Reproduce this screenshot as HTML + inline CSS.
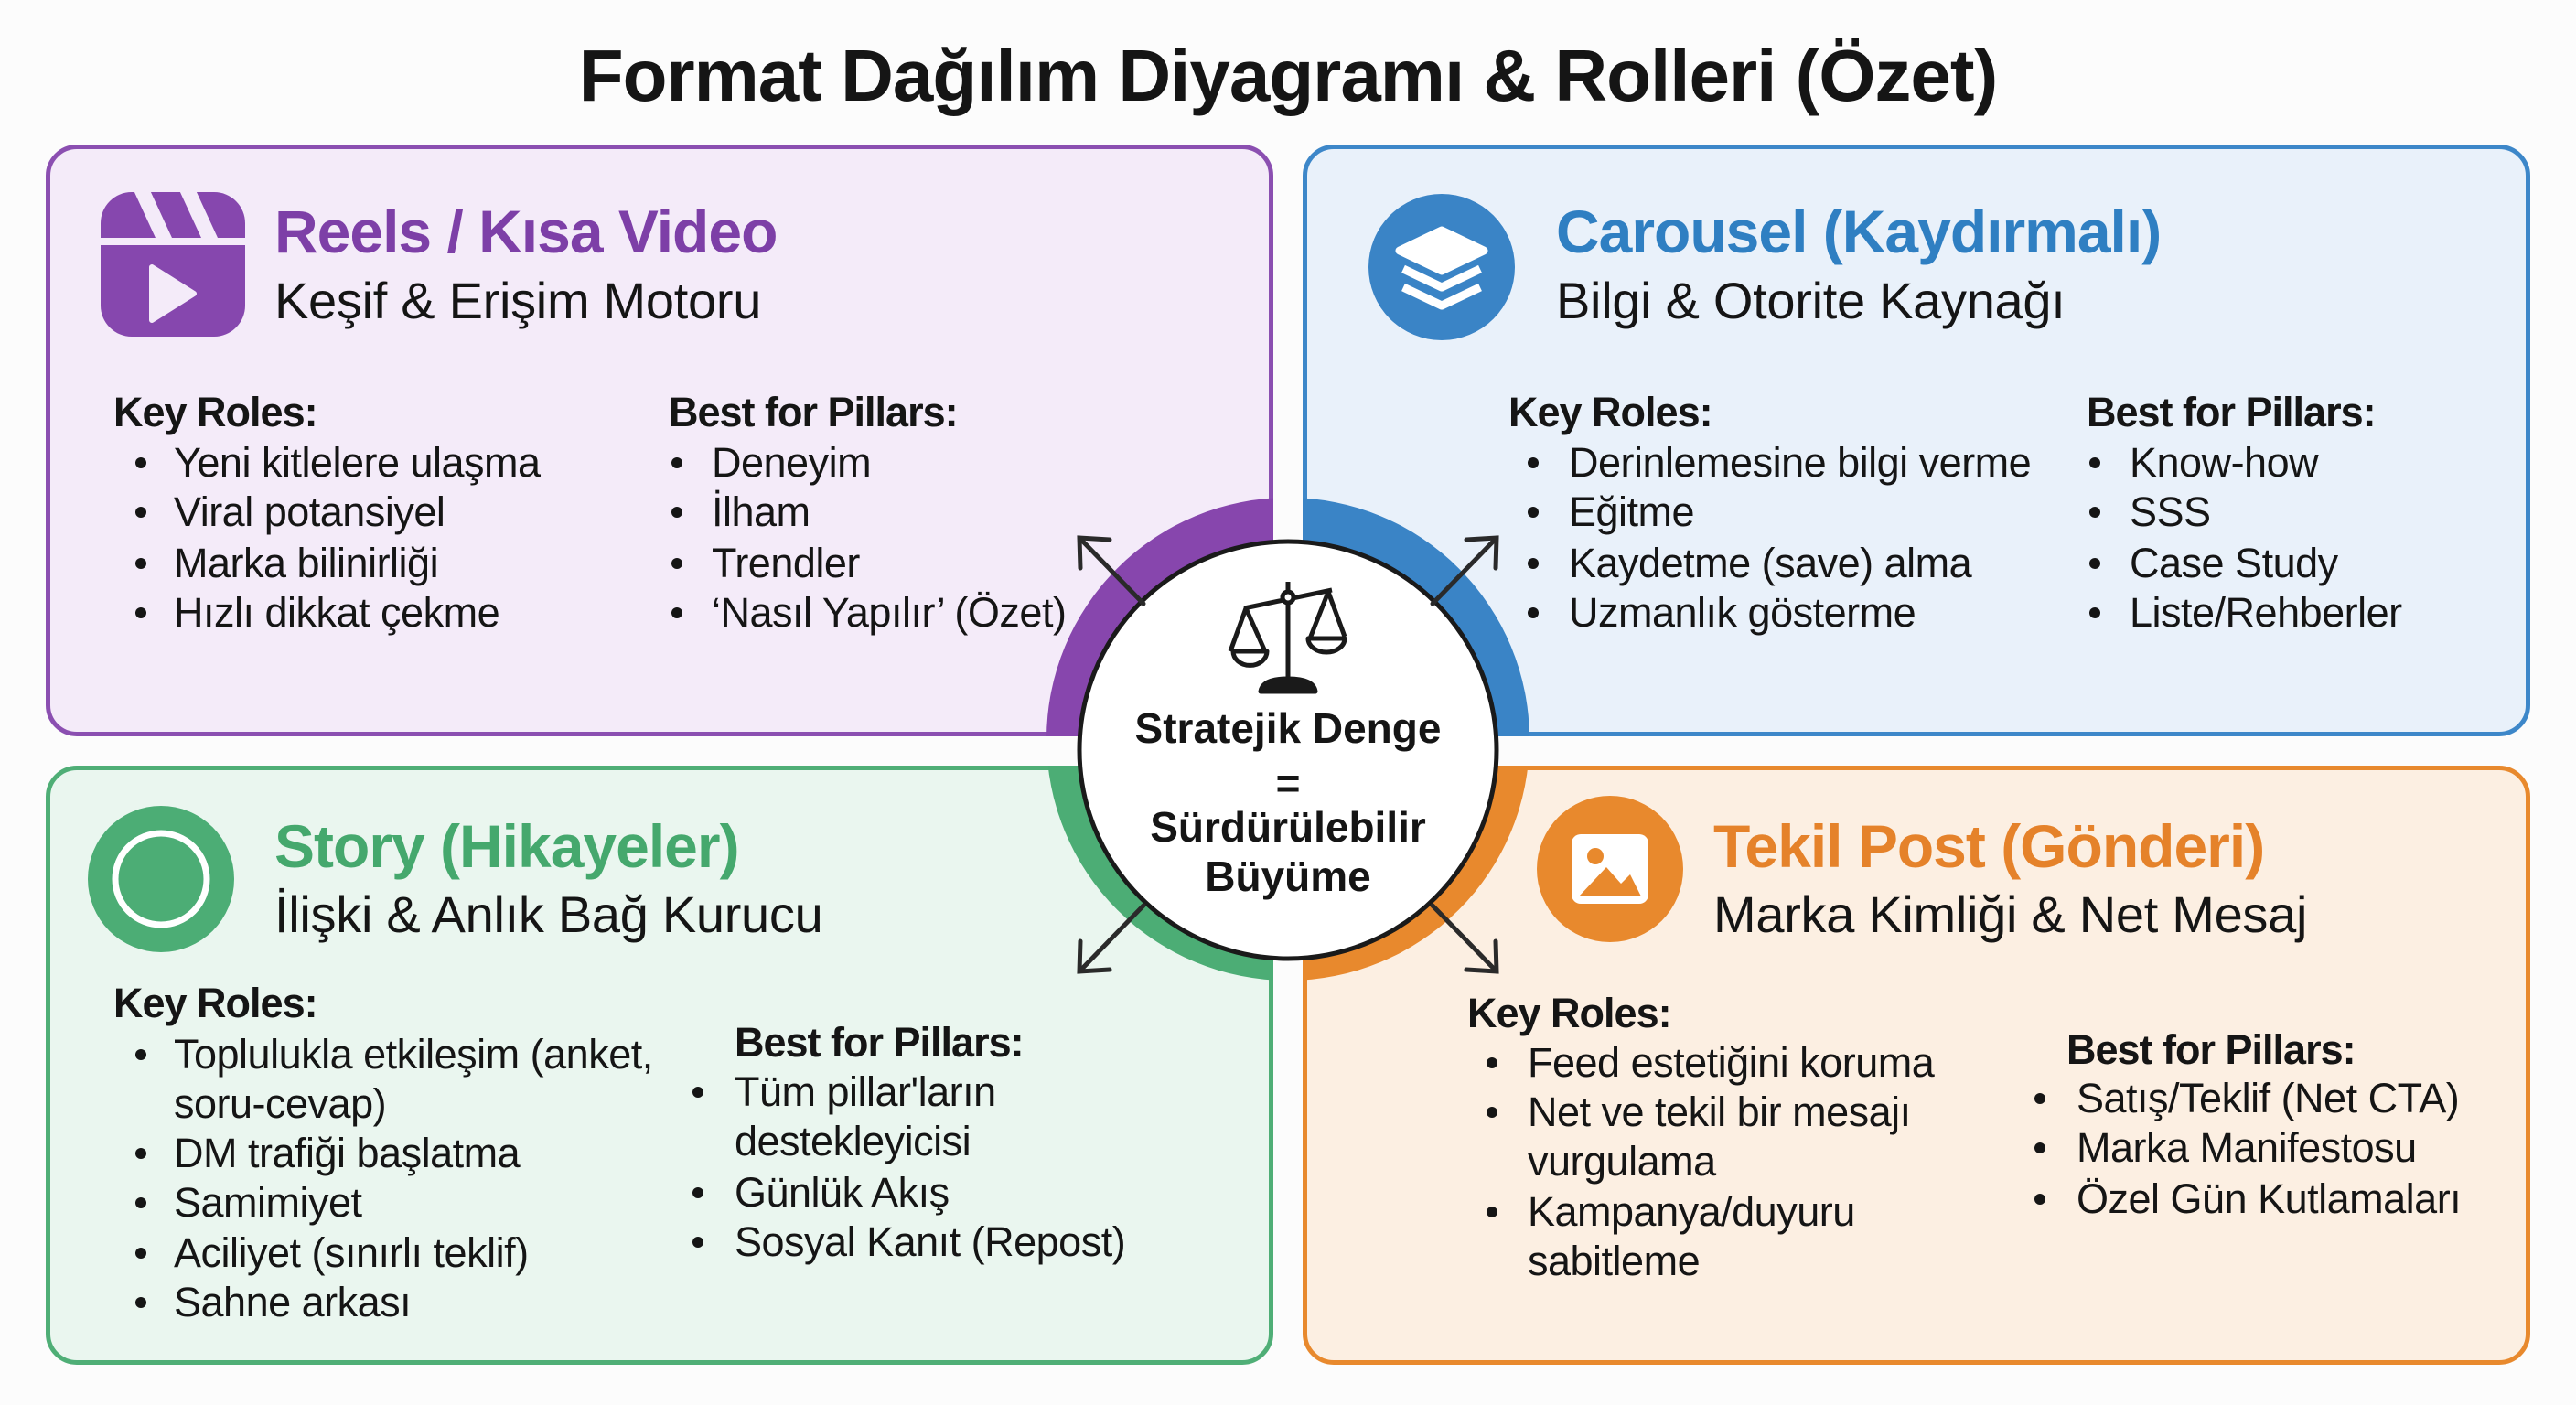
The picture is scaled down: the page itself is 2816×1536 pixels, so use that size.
<!DOCTYPE html>
<html><head><meta charset="utf-8"><style>
*{margin:0;padding:0;box-sizing:border-box}
body{width:2816px;height:1536px;background:#fcfcfc;position:relative;overflow:hidden;font-family:"Liberation Sans","DejaVu Sans",sans-serif;color:#151515}
.box{position:absolute;border:5px solid;border-radius:34px}
.t{position:absolute;white-space:nowrap;line-height:54px}
.h{font-weight:bold;font-size:66px;line-height:76px;letter-spacing:-1px}
.s{font-size:56px;line-height:70px;letter-spacing:-0.3px}
.k{font-weight:bold;font-size:45px;letter-spacing:-1px}
.i{font-size:45px;letter-spacing:-0.5px}
.b{position:absolute;width:12px;height:12px;border-radius:50%;background:#151515}
.c{position:absolute;left:1188px;width:440px;text-align:center;white-space:nowrap;font-weight:bold;font-size:46px;line-height:56px}
</style></head><body>
<div class="t" style="left:0;width:2816px;text-align:center;top:38px;font-size:80px;font-weight:bold;line-height:90px;letter-spacing:-1px">Format Dağılım Diyagramı &amp; Rolleri (Özet)</div>

<div class="box" style="left:50px;top:158px;width:1342px;height:647px;border-color:#8b4fb1;background:#f4ebf9"></div>
<div class="box" style="left:1424px;top:158px;width:1342px;height:647px;border-color:#3d87c9;background:#e9f1fa"></div>
<div class="box" style="left:50px;top:837px;width:1342px;height:655px;border-color:#4fae76;background:#eaf6ef"></div>
<div class="box" style="left:1424px;top:837px;width:1342px;height:655px;border-color:#e8892d;background:#fcefe2"></div>

<svg style="position:absolute;left:0;top:0" width="2816" height="1536">
<path d="M1408 808 L1408 544 A264 264 0 0 0 1144 808 Z" fill="#8746ad"/>
<path d="M1408 808 L1672 808 A264 264 0 0 0 1408 544 Z" fill="#3a84c6"/>
<path d="M1408 808 L1144 808 A264 264 0 0 0 1408 1072 Z" fill="#4cad75"/>
<path d="M1408 808 L1408 1072 A264 264 0 0 0 1672 808 Z" fill="#e8892d"/>
<rect x="1392" y="520" width="32" height="580" fill="#fcfcfc"/>
<rect x="1120" y="805" width="580" height="32" fill="#fcfcfc"/>
<circle cx="1408" cy="820" r="228" fill="#fff" stroke="#1a1a1a" stroke-width="5"/>
<g stroke="#2a2a2a" stroke-width="5" fill="none" stroke-linecap="round">
<line x1="1250" y1="660" x2="1180" y2="588"/><polyline points="1213,590 1180,588 1181,621"/>
<line x1="1566" y1="660" x2="1636" y2="588"/><polyline points="1603,590 1636,588 1635,621"/>
<line x1="1250" y1="990" x2="1180" y2="1062"/><polyline points="1213,1060 1180,1062 1181,1029"/>
<line x1="1566" y1="990" x2="1636" y2="1062"/><polyline points="1603,1060 1636,1062 1635,1029"/>
</g>
<g stroke="#1a1a1a" stroke-width="5" fill="none" stroke-linejoin="round">
<line x1="1408" y1="636" x2="1408" y2="742"/>
<line x1="1360" y1="665" x2="1456" y2="645"/>
<circle cx="1408" cy="653" r="6" fill="#fff"/>
<polyline points="1345,712 1362,665 1382,710"/>
<path d="M1348 712 H1385 A18 15 0 0 1 1348 712 Z"/>
<polyline points="1432,698 1452,647 1470,696"/>
<path d="M1430 698 H1470 A20 15 0 0 1 1430 698 Z"/>
<path d="M1378 756 Q1380 742 1408 742 Q1436 742 1438 756 Z" fill="#1a1a1a"/>
</g>
</svg>
<div class="c" style="top:768px">Stratejik Denge</div>
<div class="c" style="top:828px">=</div>
<div class="c" style="top:876px">Sürdürülebilir</div>
<div class="c" style="top:930px">Büyüme</div>

<svg style="position:absolute;left:108px;top:208px" width="164" height="164">
<rect x="2" y="2" width="158" height="158" rx="34" fill="#8647ae"/>
<rect x="2" y="52" width="160" height="8" fill="#f4ebf9"/>
<polygon points="38,0 56,0 80,52 62,52" fill="#f4ebf9"/>
<polygon points="88,0 106,0 130,52 112,52" fill="#f4ebf9"/>
<polygon points="58,84 58,142 104,113" fill="#f4ebf9" stroke="#f4ebf9" stroke-width="6" stroke-linejoin="round"/>
</svg>
<svg style="position:absolute;left:1494px;top:210px" width="164" height="164">
<circle cx="82" cy="82" r="80" fill="#3a84c6"/>
<g fill="none" stroke="#fff" stroke-width="9" stroke-linejoin="round">
<polygon points="82,42 128,64 82,86 36,64" fill="#fff"/>
<polyline points="40,84 82,104 124,84"/>
<polyline points="40,104 82,124 124,104"/>
</g>
</svg>
<svg style="position:absolute;left:96px;top:881px" width="164" height="164">
<circle cx="80" cy="80" r="80" fill="#4cad75"/>
<circle cx="80" cy="80" r="50" fill="none" stroke="#fff" stroke-width="7"/>
</svg>
<svg style="position:absolute;left:1680px;top:870px" width="164" height="164">
<circle cx="80" cy="80" r="80" fill="#e8892d"/>
<rect x="38" y="42" width="84" height="76" rx="10" fill="#fff"/>
<circle cx="64" cy="66" r="9" fill="#e8892d"/>
<polygon points="46,110 76,78 92,96 102,86 114,110" fill="#e8892d"/>
</svg>

<div class="t h" style="left:300px;top:215px;color:#7d3fa7">Reels / Kısa Video</div>
<div class="t s" style="left:300px;top:294px">Keşif &amp; Erişim Motoru</div>
<div class="t k" style="left:124px;top:424px">Key Roles:</div>
<div class="t i" style="left:190px;top:479px">Yeni kitlelere ulaşma</div><div class="b" style="left:148px;top:500px"></div>
<div class="t i" style="left:190px;top:533px">Viral potansiyel</div><div class="b" style="left:148px;top:554px"></div>
<div class="t i" style="left:190px;top:589px">Marka bilinirliği</div><div class="b" style="left:148px;top:610px"></div>
<div class="t i" style="left:190px;top:643px">Hızlı dikkat çekme</div><div class="b" style="left:148px;top:664px"></div>
<div class="t k" style="left:731px;top:424px">Best for Pillars:</div>
<div class="t i" style="left:778px;top:479px">Deneyim</div><div class="b" style="left:734px;top:500px"></div>
<div class="t i" style="left:778px;top:533px">İlham</div><div class="b" style="left:734px;top:554px"></div>
<div class="t i" style="left:778px;top:589px">Trendler</div><div class="b" style="left:734px;top:610px"></div>
<div class="t i" style="left:778px;top:643px">‘Nasıl Yapılır’ (Özet)</div><div class="b" style="left:734px;top:664px"></div>

<div class="t h" style="left:1701px;top:215px;color:#2f7fc2">Carousel (Kaydırmalı)</div>
<div class="t s" style="left:1701px;top:294px">Bilgi &amp; Otorite Kaynağı</div>
<div class="t k" style="left:1649px;top:424px">Key Roles:</div>
<div class="t i" style="left:1715px;top:479px">Derinlemesine bilgi verme</div><div class="b" style="left:1670px;top:500px"></div>
<div class="t i" style="left:1715px;top:533px">Eğitme</div><div class="b" style="left:1670px;top:554px"></div>
<div class="t i" style="left:1715px;top:589px">Kaydetme (save) alma</div><div class="b" style="left:1670px;top:610px"></div>
<div class="t i" style="left:1715px;top:643px">Uzmanlık gösterme</div><div class="b" style="left:1670px;top:664px"></div>
<div class="t k" style="left:2281px;top:424px">Best for Pillars:</div>
<div class="t i" style="left:2328px;top:479px">Know-how</div><div class="b" style="left:2284px;top:500px"></div>
<div class="t i" style="left:2328px;top:533px">SSS</div><div class="b" style="left:2284px;top:554px"></div>
<div class="t i" style="left:2328px;top:589px">Case Study</div><div class="b" style="left:2284px;top:610px"></div>
<div class="t i" style="left:2328px;top:643px">Liste/Rehberler</div><div class="b" style="left:2284px;top:664px"></div>

<div class="t h" style="left:300px;top:887px;color:#45a86d">Story (Hikayeler)</div>
<div class="t s" style="left:300px;top:965px">İlişki &amp; Anlık Bağ Kurucu</div>
<div class="t k" style="left:124px;top:1070px">Key Roles:</div>
<div class="t i" style="left:190px;top:1126px">Toplulukla etkileşim (anket,</div><div class="b" style="left:148px;top:1147px"></div>
<div class="t i" style="left:190px;top:1180px">soru-cevap)</div>
<div class="t i" style="left:190px;top:1234px">DM trafiği başlatma</div><div class="b" style="left:148px;top:1255px"></div>
<div class="t i" style="left:190px;top:1288px">Samimiyet</div><div class="b" style="left:148px;top:1309px"></div>
<div class="t i" style="left:190px;top:1343px">Aciliyet (sınırlı teklif)</div><div class="b" style="left:148px;top:1364px"></div>
<div class="t i" style="left:190px;top:1397px">Sahne arkası</div><div class="b" style="left:148px;top:1418px"></div>
<div class="t k" style="left:803px;top:1113px">Best for Pillars:</div>
<div class="t i" style="left:803px;top:1167px">Tüm pillar'ların</div><div class="b" style="left:757px;top:1188px"></div>
<div class="t i" style="left:803px;top:1221px">destekleyicisi</div>
<div class="t i" style="left:803px;top:1277px">Günlük Akış</div><div class="b" style="left:757px;top:1298px"></div>
<div class="t i" style="left:803px;top:1331px">Sosyal Kanıt (Repost)</div><div class="b" style="left:757px;top:1352px"></div>

<div class="t h" style="left:1873px;top:887px;color:#e5822a">Tekil Post (Gönderi)</div>
<div class="t s" style="left:1873px;top:965px">Marka Kimliği &amp; Net Mesaj</div>
<div class="t k" style="left:1604px;top:1081px">Key Roles:</div>
<div class="t i" style="left:1670px;top:1135px">Feed estetiğini koruma</div><div class="b" style="left:1625px;top:1156px"></div>
<div class="t i" style="left:1670px;top:1189px">Net ve tekil bir mesajı</div><div class="b" style="left:1625px;top:1210px"></div>
<div class="t i" style="left:1670px;top:1243px">vurgulama</div>
<div class="t i" style="left:1670px;top:1298px">Kampanya/duyuru</div><div class="b" style="left:1625px;top:1319px"></div>
<div class="t i" style="left:1670px;top:1352px">sabitleme</div>
<div class="t k" style="left:2259px;top:1121px">Best for Pillars:</div>
<div class="t i" style="left:2270px;top:1174px">Satış/Teklif (Net CTA)</div><div class="b" style="left:2224px;top:1195px"></div>
<div class="t i" style="left:2270px;top:1228px">Marka Manifestosu</div><div class="b" style="left:2224px;top:1249px"></div>
<div class="t i" style="left:2270px;top:1284px">Özel Gün Kutlamaları</div><div class="b" style="left:2224px;top:1305px"></div>
</body></html>
